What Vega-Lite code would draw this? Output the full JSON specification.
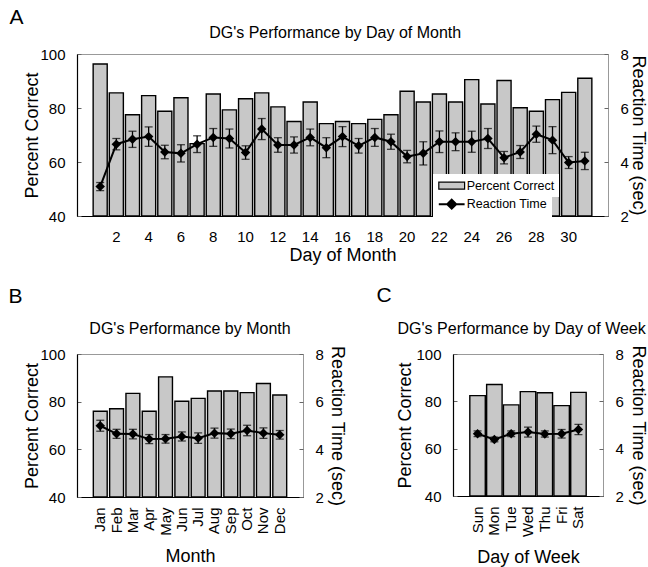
{
  "$schema": "https://vega.github.io/schema/vega-lite/v6.json",
  "padding": {"left": 8, "top": 6, "right": 0, "bottom": 0},
  "background": "white",
  "config": {
    "font": "Liberation Sans",
    "view": {"stroke": "#999999", "strokeWidth": 1},
    "axis": {"labelFontSize": 15, "labelColor": "black", "titleFontSize": 18, "titleFontWeight": "normal", "titleColor": "black", "domainColor": "black", "domainWidth": 1.2, "tickColor": "#666666", "grid": false, "labelOverlap": false},
    "title": {"fontSize": 16, "fontWeight": "normal", "color": "black"},
    "legend": {"labelFontSize": 12.5, "labelColor": "black"}
  },
  "datasets": {
    "byDay": [
      {"day": 1, "pct": 96.3, "rt": 3.09, "lo": 2.94, "hi": 3.24},
      {"day": 2, "pct": 85.6, "rt": 4.66, "lo": 4.45, "hi": 4.87},
      {"day": 3, "pct": 77.5, "rt": 4.84, "lo": 4.54, "hi": 5.14},
      {"day": 4, "pct": 84.6, "rt": 4.94, "lo": 4.58, "hi": 5.30},
      {"day": 5, "pct": 78.8, "rt": 4.37, "lo": 4.12, "hi": 4.62},
      {"day": 6, "pct": 83.8, "rt": 4.32, "lo": 4.00, "hi": 4.64},
      {"day": 7, "pct": 66.8, "rt": 4.66, "lo": 4.35, "hi": 4.97},
      {"day": 8, "pct": 85.2, "rt": 4.91, "lo": 4.58, "hi": 5.24},
      {"day": 9, "pct": 79.3, "rt": 4.87, "lo": 4.52, "hi": 5.22},
      {"day": 10, "pct": 83.4, "rt": 4.35, "lo": 4.10, "hi": 4.60},
      {"day": 11, "pct": 85.6, "rt": 5.22, "lo": 4.83, "hi": 5.61},
      {"day": 12, "pct": 80.4, "rt": 4.63, "lo": 4.36, "hi": 4.90},
      {"day": 13, "pct": 75.0, "rt": 4.63, "lo": 4.33, "hi": 4.93},
      {"day": 14, "pct": 82.2, "rt": 4.91, "lo": 4.60, "hi": 5.22},
      {"day": 15, "pct": 74.2, "rt": 4.53, "lo": 4.16, "hi": 4.90},
      {"day": 16, "pct": 75.0, "rt": 4.94, "lo": 4.57, "hi": 5.31},
      {"day": 17, "pct": 74.2, "rt": 4.60, "lo": 4.33, "hi": 4.87},
      {"day": 18, "pct": 75.8, "rt": 4.91, "lo": 4.58, "hi": 5.24},
      {"day": 19, "pct": 77.5, "rt": 4.75, "lo": 4.47, "hi": 5.03},
      {"day": 20, "pct": 86.2, "rt": 4.20, "lo": 3.97, "hi": 4.43},
      {"day": 21, "pct": 82.2, "rt": 4.32, "lo": 3.89, "hi": 4.75},
      {"day": 22, "pct": 85.2, "rt": 4.75, "lo": 4.35, "hi": 5.15},
      {"day": 23, "pct": 82.2, "rt": 4.75, "lo": 4.42, "hi": 5.08},
      {"day": 24, "pct": 90.5, "rt": 4.75, "lo": 4.36, "hi": 5.14},
      {"day": 25, "pct": 81.5, "rt": 4.87, "lo": 4.50, "hi": 5.24},
      {"day": 26, "pct": 90.2, "rt": 4.16, "lo": 3.93, "hi": 4.39},
      {"day": 27, "pct": 80.1, "rt": 4.37, "lo": 4.13, "hi": 4.61},
      {"day": 28, "pct": 78.8, "rt": 5.03, "lo": 4.73, "hi": 5.33},
      {"day": 29, "pct": 83.1, "rt": 4.81, "lo": 4.31, "hi": 5.31},
      {"day": 30, "pct": 85.8, "rt": 3.98, "lo": 3.76, "hi": 4.20},
      {"day": 31, "pct": 91.0, "rt": 4.04, "lo": 3.72, "hi": 4.36}
    ],
    "byMonth": [
      {"month": "Jan", "pct": 76.0, "rt": 4.99, "lo": 4.76, "hi": 5.22},
      {"month": "Feb", "pct": 77.0, "rt": 4.65, "lo": 4.46, "hi": 4.84},
      {"month": "Mar", "pct": 83.5, "rt": 4.64, "lo": 4.44, "hi": 4.84},
      {"month": "Apr", "pct": 76.0, "rt": 4.43, "lo": 4.24, "hi": 4.62},
      {"month": "May", "pct": 90.4, "rt": 4.44, "lo": 4.26, "hi": 4.62},
      {"month": "Jun", "pct": 80.2, "rt": 4.54, "lo": 4.35, "hi": 4.73},
      {"month": "Jul", "pct": 81.4, "rt": 4.47, "lo": 4.25, "hi": 4.69},
      {"month": "Aug", "pct": 84.5, "rt": 4.68, "lo": 4.47, "hi": 4.89},
      {"month": "Sep", "pct": 84.5, "rt": 4.65, "lo": 4.45, "hi": 4.85},
      {"month": "Oct", "pct": 83.8, "rt": 4.79, "lo": 4.57, "hi": 5.01},
      {"month": "Nov", "pct": 87.6, "rt": 4.68, "lo": 4.46, "hi": 4.90},
      {"month": "Dec", "pct": 82.8, "rt": 4.61, "lo": 4.43, "hi": 4.79}
    ],
    "byWeekday": [
      {"wd": "Sun", "pct": 82.4, "rt": 4.63, "lo": 4.51, "hi": 4.75},
      {"wd": "Mon", "pct": 87.1, "rt": 4.39, "lo": 4.29, "hi": 4.49},
      {"wd": "Tue", "pct": 78.5, "rt": 4.63, "lo": 4.51, "hi": 4.75},
      {"wd": "Wed", "pct": 84.1, "rt": 4.70, "lo": 4.49, "hi": 4.91},
      {"wd": "Thu", "pct": 83.6, "rt": 4.62, "lo": 4.49, "hi": 4.75},
      {"wd": "Fri", "pct": 78.2, "rt": 4.63, "lo": 4.45, "hi": 4.81},
      {"wd": "Sat", "pct": 83.8, "rt": 4.81, "lo": 4.59, "hi": 5.03}
    ]
  },
  "spacing": 20,
  "resolve": {"scale": {"fill": "independent", "stroke": "independent"}, "legend": {"fill": "independent", "stroke": "independent"}},
  "vconcat": [
    {
      "title": {"text": "A", "anchor": "start", "fontSize": 21, "dx": -14, "offset": -3},
      "resolve": {"scale": {"fill": "independent", "stroke": "independent"}, "legend": {"fill": "independent", "stroke": "independent"}},
      "vconcat": [
        {
          "title": {"text": "DG's Performance by Day of Month", "offset": 6, "frame": "bounds"},
          "width": 531,
          "height": 162,
          "data": {"name": "byDay"},
          "resolve": {"scale": {"y": "independent"}},
          "layer": [
            {
              "mark": {"type": "bar", "stroke": "black", "strokeWidth": 1.4},
              "encoding": {
                "x": {"field": "day", "type": "ordinal", "title": "Day of Month",
                  "scale": {"paddingInner": 0.13, "paddingOuter": 1.1},
                  "axis": {"values": [2, 4, 6, 8, 10, 12, 14, 16, 18, 20, 22, 24, 26, 28, 30], "labelAngle": 0, "ticks": false, "labelPadding": 13, "titlePadding": 2}},
                "y": {"field": "pct", "type": "quantitative", "title": "Percent Correct",
                  "scale": {"domain": [40, 100]},
                  "axis": {"values": [40, 60, 80, 100], "tickSize": -4, "labelPadding": 16, "titlePadding": -2}},
                "y2": {"datum": 40},
                "fill": {"datum": "Percent Correct", "type": "nominal",
                  "scale": {"range": ["#c8c8c8"]},
                  "legend": {"title": null, "orient": "none", "legendX": 356, "legendY": 120, "fillColor": "white",
                    "padding": 4.7, "symbolType": "M-2.15,-0.58H2.15V0.58H-2.15Z", "symbolSize": 144,
                    "symbolStrokeColor": "black", "symbolStrokeWidth": 1.2, "symbolOffset": 7, "labelOffset": 8,
                    "labelFontSize": 12.5}}
              }
            },
            {
              "layer": [
                {"mark": {"type": "rule", "color": "black", "strokeWidth": 1.3},
                  "encoding": {
                    "x": {"field": "day", "type": "ordinal"},
                    "y": {"field": "lo", "type": "quantitative", "title": "Reaction Time (sec)", "scale": {"domain": [2, 8]},
                      "axis": {"orient": "right", "values": [2, 4, 6, 8], "domain": false, "tickSize": -4, "labelPadding": 16, "titlePadding": 0}},
                    "y2": {"field": "hi"}}},
                {"mark": {"type": "tick", "color": "black", "size": 8, "thickness": 1.3},
                  "encoding": {"x": {"field": "day", "type": "ordinal"}, "y": {"field": "lo", "type": "quantitative", "title": "Reaction Time (sec)"}}},
                {"mark": {"type": "tick", "color": "black", "size": 8, "thickness": 1.3},
                  "encoding": {"x": {"field": "day", "type": "ordinal"}, "y": {"field": "hi", "type": "quantitative", "title": "Reaction Time (sec)"}}},
                {"mark": {"type": "line", "strokeWidth": 2},
                  "encoding": {"x": {"field": "day", "type": "ordinal"}, "y": {"field": "rt", "type": "quantitative", "title": "Reaction Time (sec)"},
                    "stroke": {"datum": "Reaction Time", "type": "nominal", "scale": {"range": ["black"]},
                      "legend": {"title": null, "orient": "none", "legendX": 356, "legendY": 138.5, "fillColor": "white",
                        "padding": 4.7, "symbolType": "M-2.15,0H2.15M0,-0.75L0.75,0L0,0.75L-0.75,0ZM-0.4,-0.35V0.35M0.4,-0.35V0.35M0,-0.6V0.6", "symbolSize": 144,
                        "symbolStrokeColor": "black", "symbolFillColor": "black", "symbolStrokeWidth": 2, "symbolOffset": 7, "labelOffset": 8,
                        "labelFontSize": 12.5}}}},
                {"mark": {"type": "point", "shape": "diamond", "filled": true, "color": "black", "size": 90, "opacity": 1},
                  "encoding": {"x": {"field": "day", "type": "ordinal"}, "y": {"field": "rt", "type": "quantitative", "title": "Reaction Time (sec)"}}}
              ]
            }
          ]
        }
      ]
    },
    {
      "spacing": 30,
      "resolve": {"scale": {"fill": "independent", "stroke": "independent"}, "legend": {"fill": "independent", "stroke": "independent"}},
      "hconcat": [
        {
          "title": {"text": "B", "anchor": "start", "fontSize": 21, "dx": -15, "offset": 14},
          "vconcat": [
            {
              "title": {"text": "DG's Performance by Month", "offset": 8, "frame": "group"},
              "width": 226,
              "height": 143,
              "data": {"name": "byMonth"},
              "resolve": {"scale": {"y": "independent"}},
              "layer": [
                {
                  "mark": {"type": "bar", "stroke": "black", "strokeWidth": 1.4, "fill": "#c8c8c8"},
                  "encoding": {
                    "x": {"field": "month", "type": "ordinal", "sort": null, "title": "Month",
                      "scale": {"paddingInner": 0.15, "paddingOuter": 1.05},
                      "axis": {"labelAngle": -90, "ticks": false, "labelPadding": 10, "titlePadding": 12}},
                    "y": {"field": "pct", "type": "quantitative", "title": "Percent Correct",
                      "scale": {"domain": [40, 100]},
                      "axis": {"values": [40, 60, 80, 100], "tickSize": -4, "labelPadding": 16, "titlePadding": -2}},
                    "y2": {"datum": 40}
                  }
                },
                {
                  "layer": [
                    {"mark": {"type": "rule", "color": "black", "strokeWidth": 1.3},
                      "encoding": {
                        "x": {"field": "month", "type": "ordinal", "sort": null},
                        "y": {"field": "lo", "type": "quantitative", "title": "Reaction Time (sec)", "scale": {"domain": [2, 8]},
                          "axis": {"orient": "right", "values": [2, 4, 6, 8], "domain": false, "tickSize": -4, "labelPadding": 16, "titlePadding": 4}},
                        "y2": {"field": "hi"}}},
                    {"mark": {"type": "tick", "color": "black", "size": 8, "thickness": 1.3},
                      "encoding": {"x": {"field": "month", "type": "ordinal", "sort": null}, "y": {"field": "lo", "type": "quantitative", "title": "Reaction Time (sec)"}}},
                    {"mark": {"type": "tick", "color": "black", "size": 8, "thickness": 1.3},
                      "encoding": {"x": {"field": "month", "type": "ordinal", "sort": null}, "y": {"field": "hi", "type": "quantitative", "title": "Reaction Time (sec)"}}},
                    {"mark": {"type": "line", "strokeWidth": 2, "color": "black"},
                      "encoding": {"x": {"field": "month", "type": "ordinal", "sort": null}, "y": {"field": "rt", "type": "quantitative", "title": "Reaction Time (sec)"}}},
                    {"mark": {"type": "point", "shape": "diamond", "filled": true, "color": "black", "size": 90, "opacity": 1},
                      "encoding": {"x": {"field": "month", "type": "ordinal", "sort": null}, "y": {"field": "rt", "type": "quantitative", "title": "Reaction Time (sec)"}}}
                  ]
                }
              ]
            }
          ]
        },
        {
          "title": {"text": "C", "anchor": "start", "fontSize": 21, "dx": -20, "offset": 14},
          "vconcat": [
            {
              "title": {"text": "DG's Performance by Day of Week", "offset": 8, "frame": "bounds"},
              "width": 150,
              "height": 142,
              "data": {"name": "byWeekday"},
              "resolve": {"scale": {"y": "independent"}},
              "layer": [
                {
                  "mark": {"type": "bar", "stroke": "black", "strokeWidth": 1.4, "fill": "#c8c8c8"},
                  "encoding": {
                    "x": {"field": "wd", "type": "ordinal", "sort": null, "title": "Day of Week",
                      "scale": {"paddingInner": 0.08, "paddingOuter": 1.07},
                      "axis": {"labelAngle": -90, "ticks": false, "labelPadding": 10, "titlePadding": 12}},
                    "y": {"field": "pct", "type": "quantitative", "title": "Percent Correct",
                      "scale": {"domain": [40, 100]},
                      "axis": {"values": [40, 60, 80, 100], "tickSize": -4, "labelPadding": 16, "titlePadding": 1}},
                    "y2": {"datum": 40}
                  }
                },
                {
                  "layer": [
                    {"mark": {"type": "rule", "color": "black", "strokeWidth": 1.3},
                      "encoding": {
                        "x": {"field": "wd", "type": "ordinal", "sort": null},
                        "y": {"field": "lo", "type": "quantitative", "title": "Reaction Time (sec)", "scale": {"domain": [2, 8]},
                          "axis": {"orient": "right", "values": [2, 4, 6, 8], "domain": false, "tickSize": -4, "labelPadding": 16, "titlePadding": 5}},
                        "y2": {"field": "hi"}}},
                    {"mark": {"type": "tick", "color": "black", "size": 8, "thickness": 1.3},
                      "encoding": {"x": {"field": "wd", "type": "ordinal", "sort": null}, "y": {"field": "lo", "type": "quantitative", "title": "Reaction Time (sec)"}}},
                    {"mark": {"type": "tick", "color": "black", "size": 8, "thickness": 1.3},
                      "encoding": {"x": {"field": "wd", "type": "ordinal", "sort": null}, "y": {"field": "hi", "type": "quantitative", "title": "Reaction Time (sec)"}}},
                    {"mark": {"type": "line", "strokeWidth": 2, "color": "black"},
                      "encoding": {"x": {"field": "wd", "type": "ordinal", "sort": null}, "y": {"field": "rt", "type": "quantitative", "title": "Reaction Time (sec)"}}},
                    {"mark": {"type": "point", "shape": "diamond", "filled": true, "color": "black", "size": 90, "opacity": 1},
                      "encoding": {"x": {"field": "wd", "type": "ordinal", "sort": null}, "y": {"field": "rt", "type": "quantitative", "title": "Reaction Time (sec)"}}}
                  ]
                }
              ]
            }
          ]
        }
      ]
    }
  ]
}
